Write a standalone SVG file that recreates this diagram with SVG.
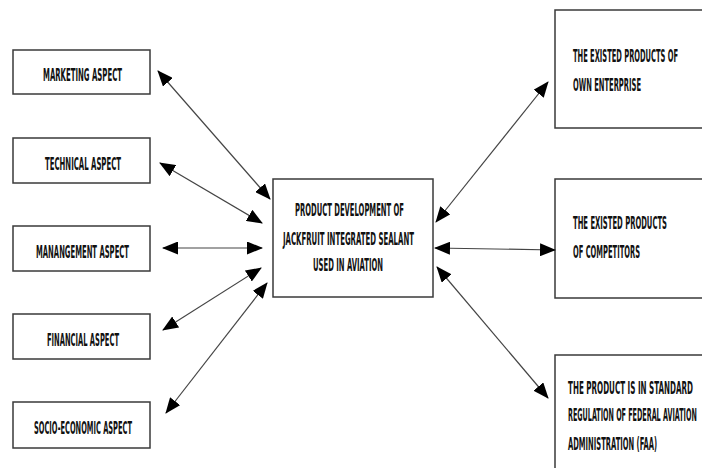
<svg xmlns="http://www.w3.org/2000/svg" width="702" height="468" viewBox="0 0 702 468">
<style>
.box{fill:#fff;stroke:#3a3a3a;stroke-width:1.5}
.t{font-family:"Liberation Sans Narrow","DejaVu Sans Condensed","Liberation Sans",sans-serif;font-weight:bold;font-size:17px;fill:#111}
.c{stroke:#444;stroke-width:1.2;fill:none;marker-start:url(#ah);marker-end:url(#ah)}
</style>
<defs>
<marker id="ah" markerUnits="userSpaceOnUse" markerWidth="16" markerHeight="13" refX="15" refY="6.5" orient="auto-start-reverse" viewBox="0 0 16 13">
<path d="M0,0 L16,6.5 L0,13 z" fill="#000"/>
</marker>
</defs>
<rect width="702" height="468" fill="#fff"/>
<g id="marketing"><rect class="box" x="13" y="50" width="137" height="44"/><text class="t" transform="translate(43,81) scale(0.5,1)" textLength="158" lengthAdjust="spacingAndGlyphs">MARKETING ASPECT</text></g>
<g id="technical"><rect class="box" x="13" y="138" width="137" height="45"/><text class="t" transform="translate(45,170) scale(0.5,1)" textLength="152" lengthAdjust="spacingAndGlyphs">TECHNICAL ASPECT</text></g>
<g id="management"><rect class="box" x="13" y="226" width="137" height="45"/><text class="t" transform="translate(36,258) scale(0.5,1)" textLength="186" lengthAdjust="spacingAndGlyphs">MANANGEMENT ASPECT</text></g>
<g id="financial"><rect class="box" x="13" y="314" width="137" height="45"/><text class="t" transform="translate(47,346) scale(0.5,1)" textLength="144" lengthAdjust="spacingAndGlyphs">FINANCIAL ASPECT</text></g>
<g id="socio"><rect class="box" x="13" y="402" width="137" height="46"/><text class="t" transform="translate(34,434) scale(0.5,1)" textLength="196" lengthAdjust="spacingAndGlyphs">SOCIO-ECONOMIC ASPECT</text></g>
<g id="center"><rect class="box" x="273" y="179" width="160" height="118"/>
<text class="t" transform="translate(295,216) scale(0.5,1)" textLength="218" lengthAdjust="spacingAndGlyphs">PRODUCT DEVELOPMENT OF</text>
<text class="t" transform="translate(283,245) scale(0.5,1)" textLength="262" lengthAdjust="spacingAndGlyphs">JACKFRUIT INTEGRATED SEALANT</text>
<text class="t" transform="translate(313,271) scale(0.5,1)" textLength="140" lengthAdjust="spacingAndGlyphs">USED IN AVIATION</text></g>
<g id="own"><path class="box" d="M702,10 H555 V128 H702"/>
<text class="t" transform="translate(573,62) scale(0.5,1)" textLength="210" lengthAdjust="spacingAndGlyphs">THE EXISTED PRODUCTS OF</text>
<text class="t" transform="translate(573,91) scale(0.5,1)" textLength="136" lengthAdjust="spacingAndGlyphs">OWN ENTERPRISE</text></g>
<g id="competitors"><path class="box" d="M702,179 H555 V298 H702"/>
<text class="t" transform="translate(573,229) scale(0.5,1)" textLength="188" lengthAdjust="spacingAndGlyphs">THE EXISTED PRODUCTS</text>
<text class="t" transform="translate(573,258) scale(0.5,1)" textLength="134" lengthAdjust="spacingAndGlyphs">OF COMPETITORS</text></g>
<g id="faa"><path class="box" d="M702,355 H555 V468"/>
<text class="t" transform="translate(568,394) scale(0.5,1)" textLength="250" lengthAdjust="spacingAndGlyphs">THE PRODUCT IS IN STANDARD</text>
<text class="t" transform="translate(568,421) scale(0.4,1)" textLength="322" lengthAdjust="spacingAndGlyphs">REGULATION OF FEDERAL AVIATION</text>
<text class="t" transform="translate(568,450) scale(0.5,1)" textLength="178" lengthAdjust="spacingAndGlyphs">ADMINISTRATION (FAA)</text></g>
<g id="connectors">
<line class="c" x1="158" y1="71" x2="270" y2="199"/>
<line class="c" x1="160" y1="163" x2="262" y2="223"/>
<line class="c" x1="163" y1="248" x2="262" y2="248"/>
<line class="c" x1="163" y1="330" x2="261" y2="268"/>
<line class="c" x1="166" y1="413" x2="267" y2="283"/>
<line class="c" x1="548" y1="82" x2="436" y2="222"/>
<line class="c" x1="435" y1="248" x2="555" y2="250"/>
<line class="c" x1="437" y1="267" x2="548" y2="398"/>
</g>
</svg>
